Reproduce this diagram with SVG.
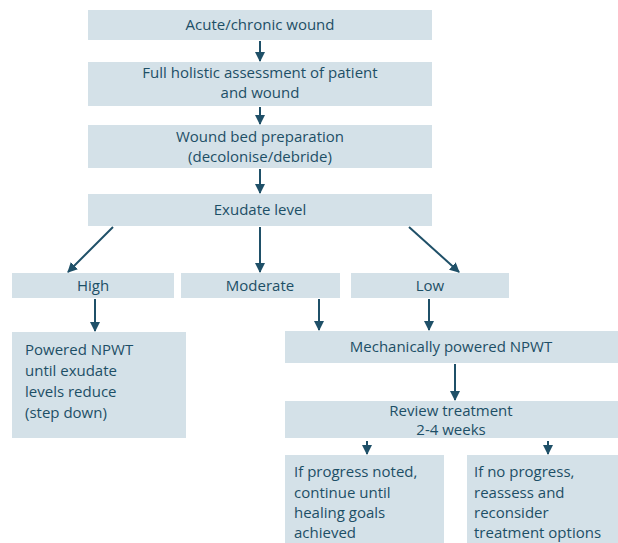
<svg xmlns="http://www.w3.org/2000/svg" width="618" height="543" viewBox="0 0 618 543">
  <style>
    .box { fill: #d4e1e8; }
    .t { font-family: "Open Sans", "Noto Sans", "Liberation Sans", sans-serif; font-size: 15px; font-weight: 500; fill: #1d4f66; }
    .c { text-anchor: middle; }
    .edge { stroke: #1f5068; stroke-width: 2; fill: none; marker-end: url(#ah); }
  </style>
  <defs>
    <marker id="ah" viewBox="0 0 10 10" refX="9" refY="5" markerWidth="5" markerHeight="5" orient="auto" markerUnits="strokeWidth">
      <path d="M0,0 L10,5 L0,10 z" fill="#1f5068"/>
    </marker>
  </defs>
  <rect width="618" height="543" fill="#ffffff"/>

  <g id="n1">
    <rect class="box" x="88" y="10" width="344" height="30"/>
    <text class="t c" x="260" y="30">Acute/chronic wound</text>
  </g>
  <g id="n2">
    <rect class="box" x="88" y="62" width="344" height="44"/>
    <text class="t c" x="260" y="78">Full holistic assessment of patient</text>
    <text class="t c" x="260" y="98">and wound</text>
  </g>
  <g id="n3">
    <rect class="box" x="88" y="125" width="344" height="43"/>
    <text class="t c" x="260" y="142">Wound bed preparation</text>
    <text class="t c" x="260" y="162">(decolonise/debride)</text>
  </g>
  <g id="n4">
    <rect class="box" x="88" y="194" width="344" height="32"/>
    <text class="t c" x="260" y="215">Exudate level</text>
  </g>
  <g id="high">
    <rect class="box" x="12" y="273" width="162" height="25"/>
    <text class="t c" x="93" y="291">High</text>
  </g>
  <g id="moderate">
    <rect class="box" x="181" y="273" width="159" height="25"/>
    <text class="t c" x="260" y="291">Moderate</text>
  </g>
  <g id="low">
    <rect class="box" x="351" y="273" width="158" height="25"/>
    <text class="t c" x="430" y="291">Low</text>
  </g>
  <g id="powered">
    <rect class="box" x="12" y="332" width="174" height="106"/>
    <text class="t" x="25" y="355">Powered NPWT</text>
    <text class="t" x="25" y="376">until exudate</text>
    <text class="t" x="25" y="397">levels reduce</text>
    <text class="t" x="25" y="418">(step down)</text>
  </g>
  <g id="mech">
    <rect class="box" x="285" y="331" width="333" height="32"/>
    <text class="t c" x="451" y="352">Mechanically powered NPWT</text>
  </g>
  <g id="review">
    <rect class="box" x="285" y="401" width="333" height="37"/>
    <text class="t c" x="451" y="416">Review treatment</text>
    <text class="t c" x="451" y="435">2-4 weeks</text>
  </g>
  <g id="progress">
    <rect class="box" x="285" y="455" width="159" height="88"/>
    <text class="t" x="294" y="477">If progress noted,</text>
    <text class="t" x="294" y="498">continue until</text>
    <text class="t" x="294" y="518">healing goals</text>
    <text class="t" x="294" y="538">achieved</text>
  </g>
  <g id="noprogress">
    <rect class="box" x="467" y="455" width="151" height="88"/>
    <text class="t" x="474" y="477">If no progress,</text>
    <text class="t" x="474" y="498">reassess and</text>
    <text class="t" x="474" y="518">reconsider</text>
    <text class="t" x="474" y="538">treatment options</text>
  </g>

  <g id="connectors">
    <line class="edge" x1="260" y1="41" x2="260" y2="61"/>
    <line class="edge" x1="260" y1="107" x2="260" y2="124"/>
    <line class="edge" x1="260" y1="169" x2="260" y2="193"/>
    <line class="edge" x1="113" y1="227" x2="68" y2="272"/>
    <line class="edge" x1="260" y1="227" x2="260" y2="272"/>
    <line class="edge" x1="409" y1="227" x2="459" y2="272"/>
    <line class="edge" x1="95" y1="299" x2="95" y2="331"/>
    <line class="edge" x1="319" y1="299" x2="319" y2="330"/>
    <line class="edge" x1="429" y1="299" x2="429" y2="330"/>
    <line class="edge" x1="455" y1="364" x2="455" y2="400"/>
    <line class="edge" x1="367" y1="441" x2="367" y2="454"/>
    <line class="edge" x1="548" y1="441" x2="548" y2="454"/>
  </g>
</svg>
